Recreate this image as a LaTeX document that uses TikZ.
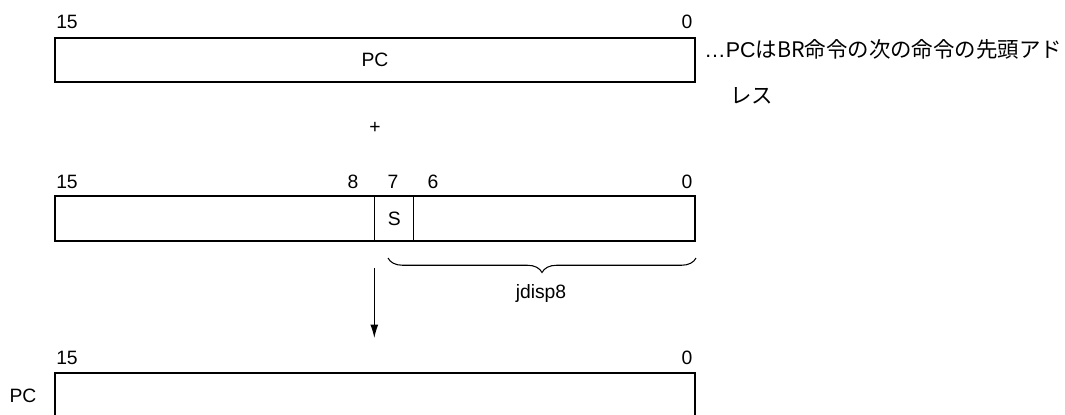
\documentclass[tikz,border=0pt]{standalone}
\usepackage{fontspec}
\setmainfont{Liberation Sans}
\newfontfamily\jp{Noto Sans CJK JP}
\usetikzlibrary{positioning,decorations.pathreplacing,arrows.meta}
\begin{document}
\begin{tikzpicture}[x=0.02cm, y=-0.02cm,
  every node/.style={font=\fontsize{11}{13}\selectfont, inner sep=0pt},
  reg/.style={draw, line width=1.3pt, minimum width=12.8cm, minimum height=0.89cm},
  cell/.style={minimum width=0.76cm, minimum height=0.89cm},
  note/.style={anchor=west, font=\fontsize{12.2}{14}\selectfont},
  thinline/.style={line width=0.6pt}]

  \useasboundingbox (0,0) rectangle (1065,414);

  % top register
  \node[reg] (pc) at (375,60) {PC};
  \node (t15) at (67,22) {15};
  \node (t0) at (687,22) {0};
  \node[note] (note1) at (704,49) {…PC\jp{は}BR\jp{命令の次の命令の先頭アド}};
  \node[note] (note2) at (730,96) {\jp{レス}};

  \node (plus) at (375,128) {+};

  % displacement
  \node[reg] (disp) at (375,218.5) {};
  \node[cell] (s) at (394.3,218.5) {S};
  \draw[thinline] (s.north west) -- (s.south west);
  \draw[thinline] (s.north east) -- (s.south east);
  \node (m15) at (67,181.5) {15};
  \node (m8) at (353,181.5) {8};
  \node (m7) at (393,181.5) {7};
  \node (m6) at (433,181.5) {6};
  \node (m0) at (687,181.5) {0};

  \coordinate (bl) at (388,258);
  \coordinate (br) at (696,258);
  \draw[thinline, decorate, decoration={brace, mirror, amplitude=0.29cm}] (bl) -- (br);
  \node (jdisp) at (541,293) {jdisp8};

  \coordinate (arrtop) at (374.3,268);
  \coordinate (arrbot) at (374.3,338);
  \draw[thinline, -{Latex[length=0.27cm, width=0.16cm]}] (arrtop) -- (arrbot);

  % result
  \node[reg] (newpc) at (375,395.5) {};
  \node (b15) at (67,357.5) {15};
  \node (b0) at (687,357.5) {0};
  \node (pclabel) at (23,396) {PC};

\end{tikzpicture}
\end{document}
